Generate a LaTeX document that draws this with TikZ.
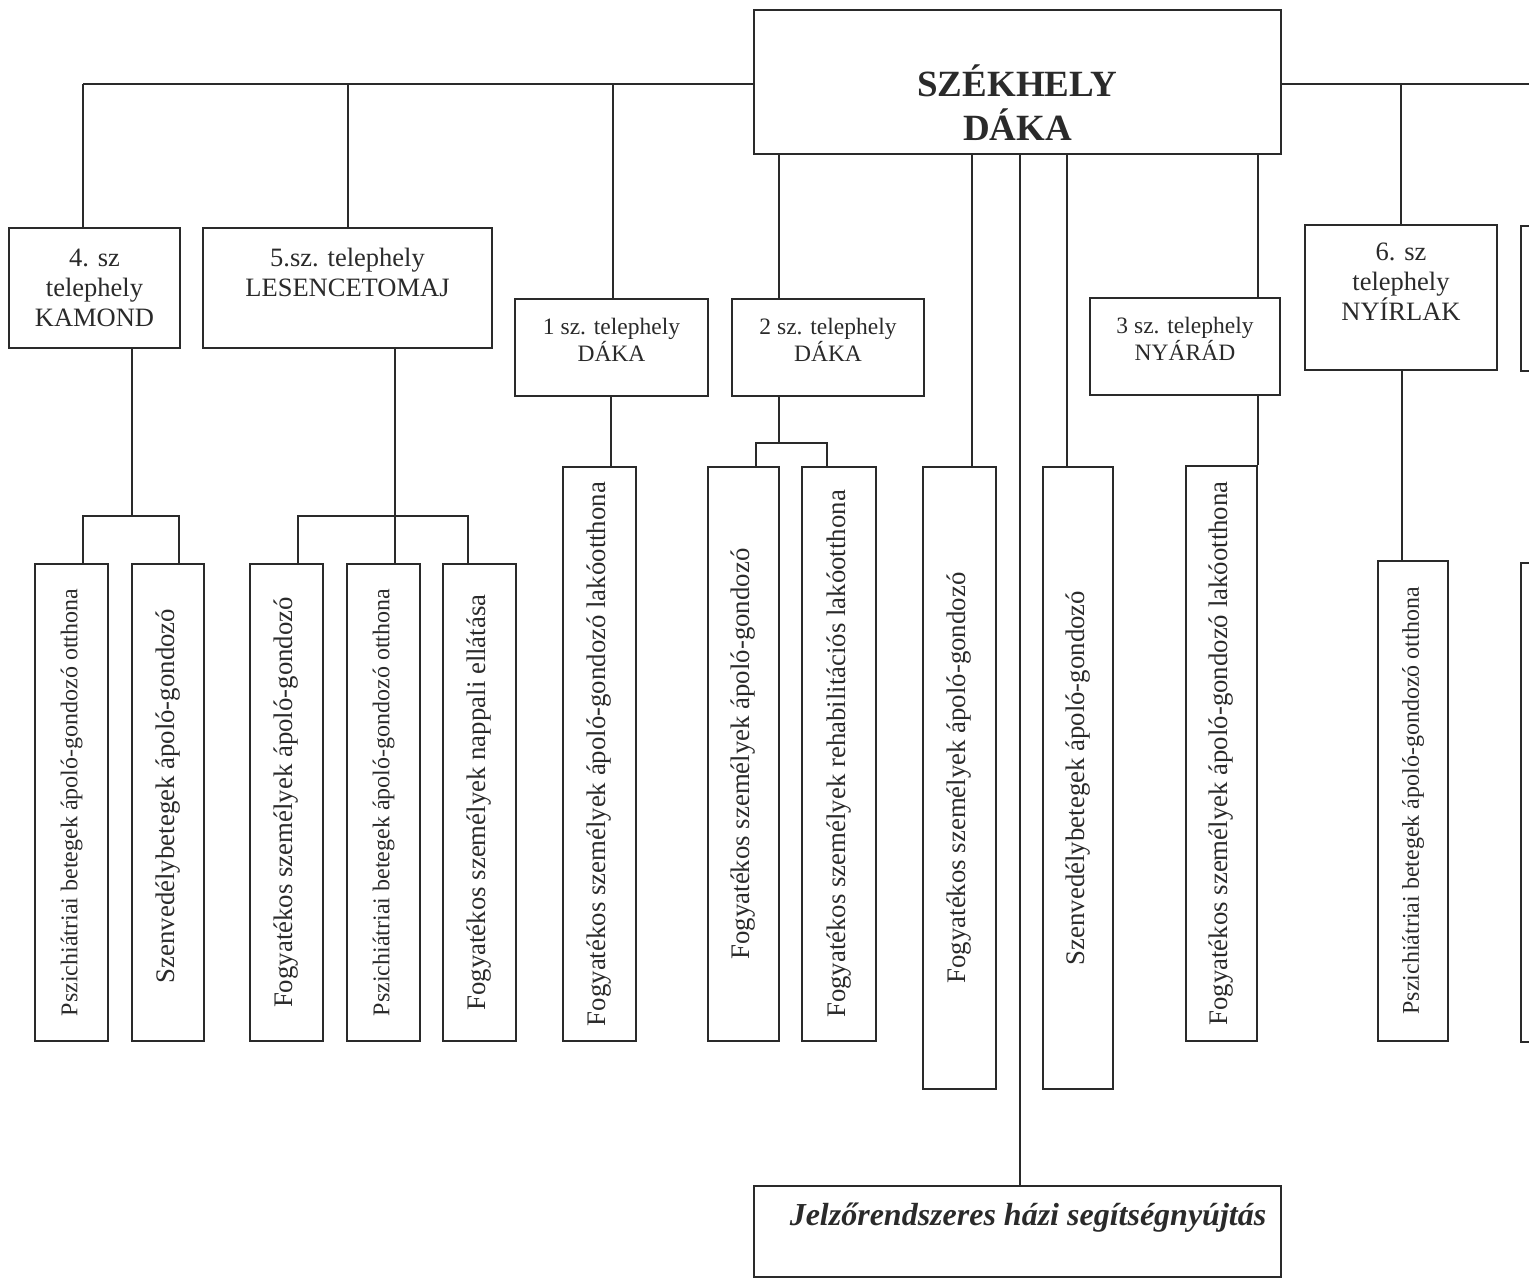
\documentclass[tikz,border=0pt]{standalone}
\usepackage{fontspec}
\setmainfont{Liberation Serif}
\usetikzlibrary{calc}
\definecolor{ink}{HTML}{2A2A2A}
\begin{document}
\begin{tikzpicture}[x=1pt,y=-1pt,
  wire/.style={draw=ink, line width=1.8pt},
  frame/.style={draw=ink, line width=1.8pt, rectangle, inner sep=0pt},
  head/.style={text=ink, align=center, inner sep=0pt, font=\fontsize{26.5}{30}\selectfont},
  subhead/.style={text=ink, align=center, inner sep=0pt, font=\fontsize{23.5}{27}\selectfont},
  vtext/.style={text=ink, rotate=90, inner sep=0pt, font=\fontsize{26.8}{30}\selectfont},
  vsmall/.style={text=ink, rotate=90, inner sep=0pt, font=\fontsize{24}{28}\selectfont}]
\useasboundingbox (0,0) rectangle (1529,1279);
\clip (0,0) rectangle (1529,1279);

% head office and the alarm service
\node[frame, minimum width=527pt, minimum height=144pt] (hq) at (1017.5,82) {};
\node[text=ink, align=center, inner sep=0pt, font=\fontsize{37}{44}\selectfont\bfseries] (hqt) at (1017.5,103) {SZÉKHELY\\DÁKA};
\node[frame, minimum width=527pt, minimum height=91pt] (jel) at (1017.5,1231.5) {};
\node[text=ink, inner sep=0pt, font=\fontsize{32}{36}\selectfont\bfseries\itshape] (jelt) at (1028,1218) {Jelzőrendszeres házi segítségnyújtás};

% sites
\node[frame, minimum width=171pt, minimum height=120pt] (b4) at (94.5,288) {};
\node[head] (b4t) at (94.5,288) {4. sz\\telephely\\KAMOND};
\node[frame, minimum width=289pt, minimum height=120pt] (b5) at (347.5,288) {};
\node[head] (b5t) at (347.5,272.5) {5.sz. telephely\\LESENCETOMAJ};
\node[frame, minimum width=193pt, minimum height=97pt] (b1) at (611.5,347.5) {};
\node[subhead] (b1t) at (611.5,340) {1 sz. telephely\\DÁKA};
\node[frame, minimum width=192pt, minimum height=97pt] (b2) at (828,347.5) {};
\node[subhead] (b2t) at (828,340) {2 sz. telephely\\DÁKA};
\node[frame, minimum width=190pt, minimum height=97pt] (b3) at (1185,346.5) {};
\node[subhead] (b3t) at (1185,338.5) {3 sz. telephely\\NYÁRÁD};
\node[frame, minimum width=192pt, minimum height=145pt] (b6) at (1401,297.5) {};
\node[head] (b6t) at (1401,282) {6. sz\\telephely\\NYÍRLAK};

% services (vertical boxes)
\node[frame, minimum width=73pt, minimum height=477pt] (k1) at (71.5,802.5) {};
\node[vsmall] (k1t) at (k1) {Pszichiátriai betegek ápoló-gondozó otthona};
\node[frame, minimum width=72pt, minimum height=477pt] (k2) at (168,802.5) {};
\node[vtext] (k2t) at (168,796) {Szenvedélybetegek ápoló-gondozó};
\node[frame, minimum width=73pt, minimum height=477pt] (l1) at (286.5,802.5) {};
\node[vtext] (l1t) at (l1) {Fogyatékos személyek ápoló-gondozó};
\node[frame, minimum width=73pt, minimum height=477pt] (l2) at (383.5,802.5) {};
\node[vsmall] (l2t) at (l2) {Pszichiátriai betegek ápoló-gondozó otthona};
\node[frame, minimum width=73pt, minimum height=477pt] (l3) at (479.5,802.5) {};
\node[vtext] (l3t) at (l3) {Fogyatékos személyek nappali ellátása};
\node[frame, minimum width=73pt, minimum height=574pt] (d1) at (599.5,754) {};
\node[vtext] (d1t) at (d1) {Fogyatékos személyek ápoló-gondozó lakóotthona};
\node[frame, minimum width=71pt, minimum height=574pt] (d21) at (743.5,754) {};
\node[vtext] (d21t) at (d21) {Fogyatékos személyek ápoló-gondozó};
\node[frame, minimum width=74pt, minimum height=574pt] (d22) at (839,754) {};
\node[vtext] (d22t) at (d22) {Fogyatékos személyek rehabilitációs lakóotthona};
\node[frame, minimum width=73pt, minimum height=622pt] (f) at (959.5,778) {};
\node[vtext] (ft) at (f) {Fogyatékos személyek ápoló-gondozó};
\node[frame, minimum width=70pt, minimum height=622pt] (sz) at (1078,778) {};
\node[vtext] (szt) at (sz) {Szenvedélybetegek ápoló-gondozó};
\node[frame, minimum width=71pt, minimum height=575pt] (n1) at (1221.5,753.5) {};
\node[vtext] (n1t) at (n1) {Fogyatékos személyek ápoló-gondozó lakóotthona};
\node[frame, minimum width=70pt, minimum height=480pt] (p6) at (1413,801) {};
\node[vsmall] (p6t) at (p6) {Pszichiátriai betegek ápoló-gondozó otthona};

% boxes running off the right edge
\node[frame, anchor=north west, minimum width=60pt, minimum height=145pt] (x6) at (1520,225) {};
\node[frame, anchor=north west, minimum width=60pt, minimum height=479pt] (x6b) at (1520,562) {};

% main bus
\coordinate (busL) at (83,84);
\coordinate (busR) at (1545,84);
\coordinate (a5) at (348,84);
\coordinate (a1) at (613,84);
\draw[wire] (busL) -- (hq.west |- busL);
\draw[wire] (hq.east |- busR) -- (busR);
\draw[wire] (busL) -- (busL |- b4.north);
\draw[wire] (a5) -- (a5 |- b5.north);
\draw[wire] (a1) -- (a1 |- b1.north);
\draw[wire] (b6.north |- busR) -- (b6.north);

% drops below the head office
\coordinate (c2) at (779,0);
\coordinate (cf) at (972,0);
\coordinate (cj) at (1020,0);
\coordinate (cs) at (1067,0);
\coordinate (c3) at (1258,0);
\draw[wire] (c2 |- hq.south) -- (c2 |- b2.north);
\draw[wire] (cf |- hq.south) -- (cf |- f.north);
\draw[wire] (cj |- hq.south) -- (cj |- jel.north);
\draw[wire] (cs |- hq.south) -- (cs |- sz.north);
\draw[wire] (c3 |- hq.south) -- (c3 |- b3.north);
\draw[wire] (c3 |- b3.south) -- (c3 |- n1.north);

% site 4
\coordinate (k4) at (132,516);
\coordinate (kL) at (83,516);
\coordinate (kR) at (179,516);
\draw[wire] (k4 |- b4.south) -- (k4);
\draw[wire] (kL |- k1.north) -- (kL) -- (kR) -- (kR |- k2.north);

% site 5
\coordinate (l5) at (395,516);
\coordinate (lL) at (298,516);
\coordinate (lR) at (468,516);
\draw[wire] (l5 |- b5.south) -- (l5 |- l2.north);
\draw[wire] (lL |- l1.north) -- (lL) -- (lR) -- (lR |- l3.north);

% site 1
\coordinate (c1) at (611,0);
\draw[wire] (c1 |- b1.south) -- (c1 |- d1.north);

% site 2
\coordinate (m2) at (779,443);
\coordinate (mL) at (756,443);
\coordinate (mR) at (827,443);
\draw[wire] (m2 |- b2.south) -- (m2);
\draw[wire] (mL |- d21.north) -- (mL) -- (mR) -- (mR |- d22.north);

% site 6
\coordinate (c6) at (1402,0);
\draw[wire] (c6 |- b6.south) -- (c6 |- p6.north);
\end{tikzpicture}
\end{document}
